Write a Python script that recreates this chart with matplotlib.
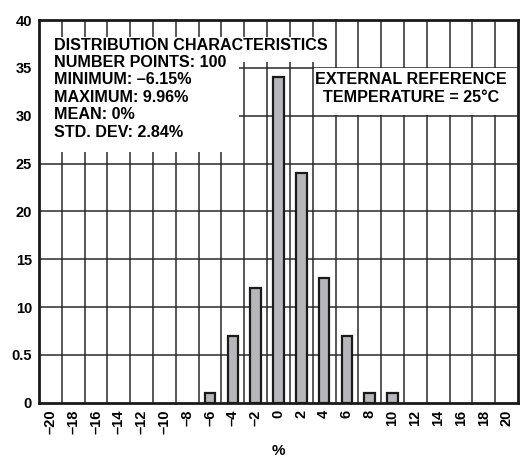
import matplotlib
matplotlib.use("Agg")
import matplotlib.pyplot as plt
from matplotlib.patches import Rectangle

# histogram data
bin_centers = [-6, -4, -2, 0, 2, 4, 6, 8, 10]
counts = [1, 7, 12, 34, 24, 13, 7, 1, 1]

x_ticks = list(range(-20, 21, 2))
x_labels = [str(v).replace("-", "\u2013") for v in x_ticks]
y_ticks = [0, 5, 10, 15, 20, 25, 30, 35, 40]
y_labels = ["0", "0.5", "10", "15", "20", "25", "30", "35", "40"]

stats_lines = ["DISTRIBUTION CHARACTERISTICS",
               "NUMBER POINTS: 100",
               "MINIMUM: \u20136.15%",
               "MAXIMUM: 9.96%",
               "MEAN: 0%",
               "STD. DEV: 2.84%"]
ref_lines = ["EXTERNAL REFERENCE", "TEMPERATURE = 25\u00b0C"]

plt.rcParams['font.family'] = ['Liberation Sans', 'DejaVu Sans']
plt.rcParams['font.weight'] = 'bold'

fig = plt.figure(figsize=(5.24, 4.62), dpi=100)
ax = fig.add_axes([0.0744, 0.1284, 0.9141, 0.8283])

grid_col = '#2a2a2a'
# vertical grid sits between the bins (odd values)
for xv in range(-19, 21, 2):
    ax.axvline(xv, color=grid_col, lw=1.1, zorder=1)
for yv in y_ticks[1:-1]:
    ax.axhline(yv, color=grid_col, lw=1.1, zorder=1)

ax.bar(bin_centers, counts, width=0.92, color='#b7b7bb',
       edgecolor='#1a1a1a', linewidth=1.6, zorder=3)

# white panels behind the annotation text
ax.add_patch(Rectangle((-21, 35.6), 25.2, 2.6, facecolor='white',
                       edgecolor='none', zorder=2))
ax.add_patch(Rectangle((-21, 26.2), 17.5, 9.45, facecolor='white',
                       edgecolor='none', zorder=2))
ax.add_patch(Rectangle((3.1, 30.05), 18, 4.9, facecolor='white',
                       edgecolor='none', zorder=2))

# baselines of each annotation line, in data units
stats_y = [36.87, 35.09, 33.26, 31.44, 29.61, 27.78]
for txt, yv in zip(stats_lines, stats_y):
    ax.text(-19.7, yv, txt, fontsize=11.6, fontweight='bold',
            va='baseline', ha='left', zorder=4)
ref_y = [33.28, 31.47]
for txt, yv in zip(ref_lines, ref_y):
    ax.text(11.6, yv, txt, fontsize=11.6, fontweight='bold',
            va='baseline', ha='center', zorder=4)

ax.set_xlim(-21, 21)
ax.set_ylim(0, 40)
ax.set_xticks(x_ticks)
ax.set_xticklabels(x_labels, rotation=90, fontsize=10.5, fontweight='bold')
ax.set_yticks(y_ticks)
ax.set_yticklabels(y_labels, fontsize=10.5, fontweight='bold')
ax.tick_params(length=0, pad=5)
ax.set_xlabel('%', fontsize=11, fontweight='bold', labelpad=7)

for sp in ax.spines.values():
    sp.set_linewidth(2)
    sp.set_color('#1a1a1a')
    sp.set_zorder(5)

fig.savefig('out.png', dpi=100)
